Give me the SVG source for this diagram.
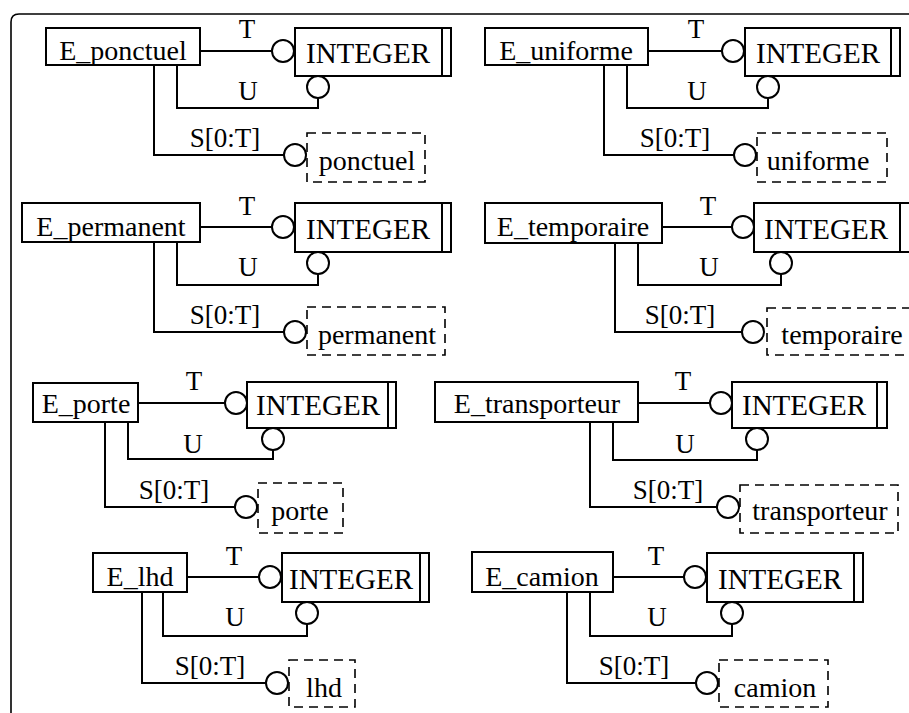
<svg xmlns="http://www.w3.org/2000/svg" width="909" height="713" viewBox="0 0 909 713">
<style>
.box{fill:#fff;stroke:#000;stroke-width:2}
.dash{fill:#fff;stroke:#000;stroke-width:1.6;stroke-dasharray:9 6}
.conn{fill:none;stroke:#000;stroke-width:2}
.circ{fill:#fff;stroke:#000;stroke-width:2}
.frame{fill:none;stroke:#000;stroke-width:1.6}
text{font-family:"Liberation Serif","Times New Roman",serif;fill:#000}
.nm{font-size:28px;text-anchor:middle}
.int{font-size:29px;text-anchor:middle}
.lb{font-size:27px;text-anchor:middle}
</style>
<path class="frame" d="M11,713 V22 Q11,14 19,14 H909"/>

<g id="connectors">
  <!-- panel 1 -->
  <path class="conn" d="M200,51 H272"/><circle class="circ" cx="283" cy="51" r="11"/>
  <path class="conn" d="M177,65 V108 H318 V98"/><circle class="circ" cx="318" cy="87" r="11"/>
  <path class="conn" d="M154,65 V155 H284"/><circle class="circ" cx="295" cy="155" r="11"/>
  <text class="lb" x="247" y="38">T</text><text class="lb" x="248" y="100">U</text><text class="lb" x="225" y="147">S[0:T]</text>
  <!-- panel 2 -->
  <path class="conn" d="M648,51 H722"/><circle class="circ" cx="733" cy="51" r="11"/>
  <path class="conn" d="M627,65 V108 H768 V98"/><circle class="circ" cx="768" cy="87" r="11"/>
  <path class="conn" d="M604,65 V155 H734"/><circle class="circ" cx="745" cy="155" r="11"/>
  <text class="lb" x="696" y="38">T</text><text class="lb" x="697" y="100">U</text><text class="lb" x="675" y="147">S[0:T]</text>
  <!-- panel 3 -->
  <path class="conn" d="M200,227 H272"/><circle class="circ" cx="283" cy="227" r="11"/>
  <path class="conn" d="M177,242 V285 H318 V274"/><circle class="circ" cx="318" cy="263" r="11"/>
  <path class="conn" d="M154,242 V332 H284"/><circle class="circ" cx="295" cy="332" r="11"/>
  <text class="lb" x="247" y="215">T</text><text class="lb" x="248" y="276">U</text><text class="lb" x="225" y="324">S[0:T]</text>
  <!-- panel 4 -->
  <path class="conn" d="M662,227 H732"/><circle class="circ" cx="743" cy="227" r="11"/>
  <path class="conn" d="M638,243 V285 H781 V274"/><circle class="circ" cx="781" cy="263" r="11"/>
  <path class="conn" d="M615,243 V332 H742"/><circle class="circ" cx="753" cy="332" r="11"/>
  <text class="lb" x="708" y="215">T</text><text class="lb" x="709" y="276">U</text><text class="lb" x="680" y="324">S[0:T]</text>
  <!-- panel 5 -->
  <path class="conn" d="M138,403 H225"/><circle class="circ" cx="236" cy="403" r="11"/>
  <path class="conn" d="M128,422 V459 H273 V450"/><circle class="circ" cx="273" cy="439" r="11"/>
  <path class="conn" d="M105,422 V507 H235"/><circle class="circ" cx="246" cy="507" r="11"/>
  <text class="lb" x="194" y="390">T</text><text class="lb" x="193" y="453">U</text><text class="lb" x="174" y="499">S[0:T]</text>
  <!-- panel 6 -->
  <path class="conn" d="M638,403 H710"/><circle class="circ" cx="721" cy="403" r="11"/>
  <path class="conn" d="M613,422 V460 H757 V450"/><circle class="circ" cx="757" cy="439" r="11"/>
  <path class="conn" d="M590,422 V507 H717"/><circle class="circ" cx="728" cy="507" r="11"/>
  <text class="lb" x="683" y="390">T</text><text class="lb" x="685" y="453">U</text><text class="lb" x="668" y="499">S[0:T]</text>
  <!-- panel 7 -->
  <path class="conn" d="M187,577 H259"/><circle class="circ" cx="270" cy="577" r="11"/>
  <path class="conn" d="M163,592 V636 H307 V624"/><circle class="circ" cx="307" cy="613" r="11"/>
  <path class="conn" d="M142,592 V683 H266"/><circle class="circ" cx="277" cy="683" r="11"/>
  <text class="lb" x="234" y="565">T</text><text class="lb" x="235" y="626">U</text><text class="lb" x="210" y="675">S[0:T]</text>
  <!-- panel 8 -->
  <path class="conn" d="M613,577 H684"/><circle class="circ" cx="695" cy="577" r="11"/>
  <path class="conn" d="M590,592 V636 H732 V624"/><circle class="circ" cx="732" cy="613" r="11"/>
  <path class="conn" d="M567,592 V683 H696"/><circle class="circ" cx="707" cy="683" r="11"/>
  <text class="lb" x="656" y="565">T</text><text class="lb" x="657" y="626">U</text><text class="lb" x="634" y="675">S[0:T]</text>
</g>

<!-- panel 1 nodes -->
<g id="E_ponctuel"><rect class="box" x="46" y="28" width="154" height="37"/><text class="nm" x="123" y="60">E_ponctuel</text></g>
<g id="INTEGER_1"><rect class="box" x="295" y="28" width="156" height="48"/><path class="conn" d="M442,28 V76"/><text class="int" x="368" y="63">INTEGER</text></g>
<g id="ponctuel"><rect class="dash" x="307" y="133" width="118" height="49"/><text class="nm" x="367" y="170">ponctuel</text></g>

<!-- panel 2 nodes -->
<g id="E_uniforme"><rect class="box" x="485" y="28" width="163" height="37"/><text class="nm" x="566" y="60">E_uniforme</text></g>
<g id="INTEGER_2"><rect class="box" x="745" y="28" width="155" height="48"/><path class="conn" d="M891,28 V76"/><text class="int" x="818" y="63">INTEGER</text></g>
<g id="uniforme"><rect class="dash" x="757" y="133" width="130" height="49"/><text class="nm" x="818" y="170">uniforme</text></g>

<!-- panel 3 nodes -->
<g id="E_permanent"><rect class="box" x="22" y="203" width="178" height="39"/><text class="nm" x="111" y="236">E_permanent</text></g>
<g id="INTEGER_3"><rect class="box" x="295" y="203" width="156" height="49"/><path class="conn" d="M442,203 V252"/><text class="int" x="368" y="239">INTEGER</text></g>
<g id="permanent"><rect class="dash" x="307" y="307" width="138" height="48"/><text class="nm" x="377" y="344">permanent</text></g>

<!-- panel 4 nodes -->
<g id="E_temporaire"><rect class="box" x="485" y="203" width="177" height="40"/><text class="nm" x="573" y="236">E_temporaire</text></g>
<g id="INTEGER_4"><rect class="box" x="754" y="203" width="160" height="49"/><path class="conn" d="M900,203 V252"/><text class="int" x="826" y="239">INTEGER</text></g>
<g id="temporaire"><rect class="dash" x="767" y="308" width="150" height="47"/><text class="nm" x="842" y="344">temporaire</text></g>

<!-- panel 5 nodes -->
<g id="E_porte"><rect class="box" x="33" y="383" width="105" height="39"/><text class="nm" x="86" y="413">E_porte</text></g>
<g id="INTEGER_5"><rect class="box" x="247" y="382" width="149" height="46"/><path class="conn" d="M388,382 V428"/><text class="int" x="318" y="415">INTEGER</text></g>
<g id="porte"><rect class="dash" x="258" y="483" width="85" height="50"/><text class="nm" x="300" y="520">porte</text></g>

<!-- panel 6 nodes -->
<g id="E_transporteur"><rect class="box" x="435" y="382" width="203" height="40"/><text class="nm" x="537" y="413">E_transporteur</text></g>
<g id="INTEGER_6"><rect class="box" x="732" y="382" width="155" height="46"/><path class="conn" d="M877,382 V428"/><text class="int" x="804" y="415">INTEGER</text></g>
<g id="transporteur"><rect class="dash" x="740" y="485" width="158" height="48"/><text class="nm" x="820" y="520">transporteur</text></g>

<!-- panel 7 nodes -->
<g id="E_lhd"><rect class="box" x="93" y="553" width="94" height="39"/><text class="nm" x="140" y="586">E_lhd</text></g>
<g id="INTEGER_7"><rect class="box" x="282" y="553" width="147" height="49"/><path class="conn" d="M420,553 V602"/><text class="int" x="351" y="589">INTEGER</text></g>
<g id="lhd"><rect class="dash" x="289" y="660" width="66" height="47"/><text class="nm" x="324" y="697">lhd</text></g>

<!-- panel 8 nodes -->
<g id="E_camion"><rect class="box" x="472" y="552" width="141" height="40"/><text class="nm" x="542" y="586">E_camion</text></g>
<g id="INTEGER_8"><rect class="box" x="707" y="553" width="156" height="49"/><path class="conn" d="M854,553 V602"/><text class="int" x="780" y="589">INTEGER</text></g>
<g id="camion"><rect class="dash" x="719" y="660" width="109" height="47"/><text class="nm" x="775" y="697">camion</text></g>
</svg>
